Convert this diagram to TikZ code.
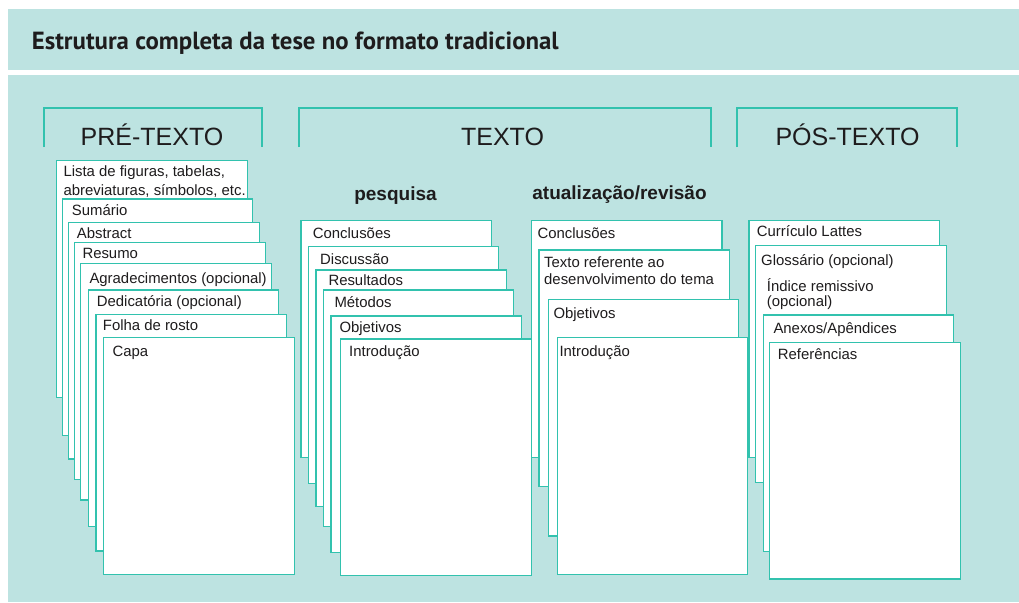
\documentclass[tikz,border=0pt]{standalone}
\usepackage{fontspec}
\setmainfont{Liberation Sans}
\newfontfamily\titlefont{PT Sans}
\definecolor{bgteal}{RGB}{189,227,225}
\definecolor{pageline}{RGB}{50,194,174}
\definecolor{ink}{RGB}{30,28,29}
\tikzset{
    page/.style={draw=pageline,fill=white,line width=1.2pt,anchor=north west,inner sep=0pt,outer sep=0pt,minimum width=190.5pt,minimum height=236.7pt},
    lbl/.style={anchor=base west,inner sep=0pt,text=ink,align=left,font=\fontsize{14.9}{17}\selectfont},
    head/.style={anchor=base,inner sep=0pt,text=ink,font=\fontsize{25}{28}\selectfont},
    subhead/.style={anchor=base,inner sep=0pt,text=ink,font=\bfseries\fontsize{19}{22}\selectfont},
    bracket/.style={draw=pageline,line width=1.2pt}
}
\begin{document}
\begin{tikzpicture}[x=1pt,y=-1pt]
    \useasboundingbox (0,0) rectangle (1019,602);
    % title band and panel
    \fill[bgteal] (8,9.3) rectangle (1019,70);
    \fill[bgteal] (8,75.3) rectangle (1019,602);
    \node[anchor=base west,inner sep=0pt,text=ink,font=\titlefont\bfseries\fontsize{24.8}{28}\selectfont] (title) at (31.7,50) {Estrutura completa da tese no formato tradicional};
    % section heads
    \draw[bracket] (44,147) |- (262,108) -- (262,147);
    \draw[bracket] (299,147) |- (711,108) -- (711,147);
    \draw[bracket] (737,147) |- (957,108) -- (957,147);
    \node[head] (pre) at (152,145) {PRÉ-TEXTO};
    \node[head] (txt) at (502.5,145) {TEXTO};
    \node[head] (pos) at (847.5,145) {PÓS-TEXTO};
    \node[subhead] (pesq) at (395.5,200.5) {pesquisa};
    \node[subhead] (atua) at (619.5,199.5) {atualização/revisão};
    % pre-texto
    \node[page] (pre1) at (56.7,160.7) {};
    \node[lbl,font=\fontsize{14.9}{18.3}\selectfont] (pre1t) at (63.3,195) {Lista de figuras, tabelas,\\abreviaturas, símbolos, etc.};
    \node[page] (pre2) at (62.3,199) {};
    \node[lbl] (pre2t) at (71.7,215.7) {Sumário};
    \node[page] (pre3) at (68.7,222.3) {};
    \node[lbl] (pre3t) at (76.7,238) {Abstract};
    \node[page] (pre4) at (74.7,242.7) {};
    \node[lbl] (pre4t) at (82.3,258.3) {Resumo};
    \node[page] (pre5) at (80.7,263.3) {};
    \node[lbl] (pre5t) at (89.3,283.3) {Agradecimentos (opcional)};
    \node[page] (pre6) at (88.3,290) {};
    \node[lbl] (pre6t) at (96.7,306.7) {Dedicatória (opcional)};
    \node[page] (pre7) at (96,314.3) {};
    \node[lbl] (pre7t) at (102.7,330.7) {Folha de rosto};
    \node[page] (pre8) at (103.7,337.7) {};
    \node[lbl] (pre8t) at (112.3,356.7) {Capa};
    % texto, pesquisa
    \node[page] (pes1) at (301,220.7) {};
    \node[lbl] (pes1t) at (312.7,238.3) {Conclusões};
    \node[page] (pes2) at (308.3,246.7) {};
    \node[lbl] (pes2t) at (320,264.3) {Discussão};
    \node[page] (pes3) at (316,270) {};
    \node[lbl] (pes3t) at (328.3,285.7) {Resultados};
    \node[page] (pes4) at (323.3,290) {};
    \node[lbl] (pes4t) at (334.3,307.3) {Métodos};
    \node[page] (pes5) at (331,316) {};
    \node[lbl] (pes5t) at (339.3,332.3) {Objetivos};
    \node[page] (pes6) at (340.7,339) {};
    \node[lbl] (pes6t) at (349,356.7) {Introdução};
    % texto, atualizacao/revisao
    \node[page] (atu1) at (531.5,220.7) {};
    \node[lbl] (atu1t) at (537.3,238.3) {Conclusões};
    \node[page] (atu2) at (539,250) {};
    \node[lbl] (atu2t) at (544,284.3) {Texto referente ao\\desenvolvimento do tema};
    \node[page] (atu3) at (548.3,299.3) {};
    \node[lbl] (atu3t) at (553.3,318.3) {Objetivos};
    \node[page] (atu4) at (557.3,337.7) {};
    \node[lbl] (atu4t) at (559.3,356.7) {Introdução};
    % pos-texto
    \node[page] (pos1) at (749,220.7) {};
    \node[lbl] (pos1t) at (756.7,236.7) {Currículo Lattes};
    \node[page] (pos2) at (755.7,245.7) {};
    \node[lbl] (pos2t) at (761,265) {Glossário (opcional)};
    \node[lbl,font=\fontsize{14.9}{15}\selectfont] (pos2u) at (766.7,306.7) {Índice remissivo\\(opcional)};
    \node[page] (pos3) at (763.3,315) {};
    \node[lbl] (pos3t) at (773.3,333.3) {Anexos/Apêndices};
    \node[page] (pos4) at (769.7,342.3) {};
    \node[lbl] (pos4t) at (777.7,359.3) {Referências};
\end{tikzpicture}
\end{document}
